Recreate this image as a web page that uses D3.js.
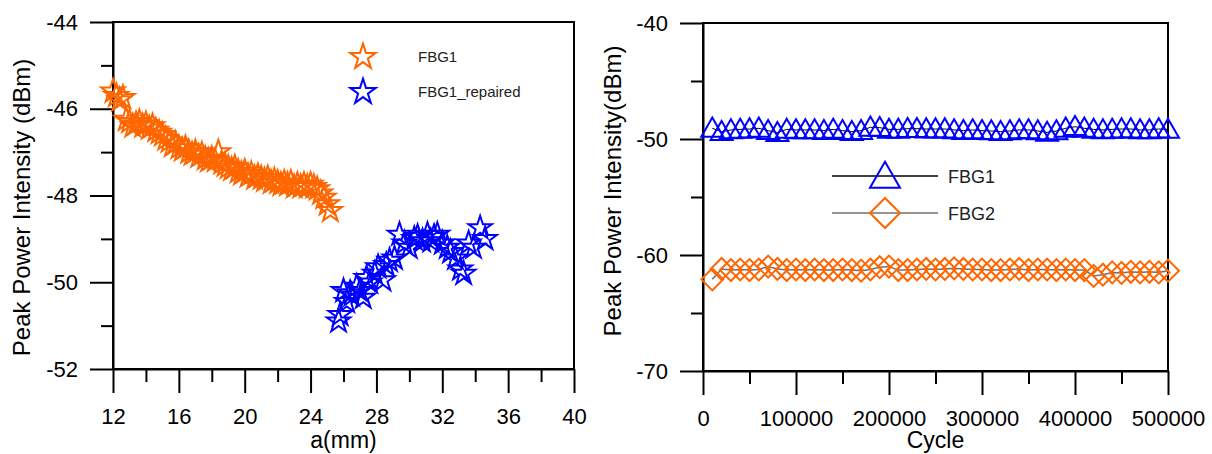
<!DOCTYPE html>
<html>
<head>
<meta charset="utf-8">
<script src="https://cdn.jsdelivr.net/npm/d3@7"></script>
<style>
  body { margin: 0; background: #fff; }
  svg { display: block; font-family: "Liberation Sans", Arial, sans-serif; }
  .axis path, .axis line { stroke: #000; stroke-width: 2; }
  .axis text { fill: #000; }
</style>
</head>
<body>
<script>
// ---- left chart data: a(mm) vs peak power (dBm)
var fbg1A = [12.0, 12.2, 12.4, 12.6, 12.8, 13.0, 13.2, 13.4, 13.6, 13.8, 14.0, 14.2, 14.4, 14.6, 14.8,
  15.0, 15.2, 15.4, 15.6, 15.8, 16.0, 16.2, 16.4, 16.6, 16.8, 17.0, 17.2, 17.4, 17.6, 17.8,
  18.0, 18.2, 18.4, 18.6, 18.8, 19.0, 19.2, 19.4, 19.6, 19.8, 20.0, 20.2, 20.4, 20.6, 20.8,
  21.0, 21.2, 21.4, 21.6, 21.8, 22.0, 22.2, 22.4, 22.6, 22.8, 23.0, 23.2, 23.4, 23.6, 23.8,
  24.0, 24.2, 24.4, 24.6, 24.8, 25.0, 25.2];
var fbg1Power = [-45.6, -45.7, -45.8, -45.75, -46.25, -46.3, -46.4, -46.35, -46.3, -46.4, -46.35, -46.45, -46.4, -46.5, -46.55,
  -46.6, -46.7, -46.75, -46.85, -46.8, -46.9, -46.95, -46.9, -47.0, -47.05, -47.0, -47.1, -47.05, -47.15, -47.2,
  -47.15, -47.2, -47.0, -47.25, -47.3, -47.35, -47.4, -47.35, -47.45, -47.5, -47.45, -47.55, -47.5, -47.6, -47.55,
  -47.6, -47.65, -47.6, -47.7, -47.65, -47.7, -47.75, -47.7, -47.75, -47.7, -47.8, -47.75, -47.8, -47.75, -47.8,
  -47.75, -47.8, -47.85, -47.95, -48.05, -48.2, -48.35];

var repairedA = [25.7, 25.8, 26.0, 26.2, 26.4, 26.5, 26.8, 27.0, 27.2, 27.4, 27.6, 27.9, 28.1, 28.4, 28.6,
  28.8, 29.1, 29.4, 29.7, 30.0, 30.3, 30.5, 30.8, 31.1, 31.3, 31.5, 31.7, 32.0, 32.3, 32.5,
  32.8, 33.1, 33.3, 33.6, 33.9, 34.3, 34.6];
var repairedPower = [-50.9, -50.75, -50.2, -50.45, -50.25, -50.3, -50.1, -50.2, -50.35, -49.9, -50.0, -49.8, -49.65, -49.95, -49.6,
  -49.5, -49.45, -48.9, -49.1, -49.2, -49.0, -48.95, -49.05, -48.9, -49.05, -48.95, -48.9, -49.1, -49.2, -49.3,
  -49.45, -49.7, -49.8, -49.1, -49.2, -48.75, -49.0];

var leftXTicks = [12, 16, 20, 24, 28, 32, 36, 40];
var leftYTicks = [-52, -50, -48, -46, -44];

// ---- right chart data: cycle vs peak power (dBm)
var cycles = [10000, 20000, 30000, 40000, 50000, 60000, 70000, 80000, 90000, 100000,
  110000, 120000, 130000, 140000, 150000, 160000, 170000, 180000, 190000, 200000,
  210000, 220000, 230000, 240000, 250000, 260000, 270000, 280000, 290000, 300000,
  310000, 320000, 330000, 340000, 350000, 360000, 370000, 380000, 390000, 400000,
  410000, 420000, 430000, 440000, 450000, 460000, 470000, 480000, 490000, 500000];
var cycFbg1 = [-49.08, -49.37, -49.22, -49.17, -49.14, -49.08, -49.28, -49.45, -49.17, -49.22,
  -49.22, -49.22, -49.28, -49.17, -49.28, -49.37, -49.28, -48.99, -49.02, -49.17,
  -49.17, -49.11, -49.11, -49.14, -49.14, -49.14, -49.22, -49.28, -49.22, -49.28,
  -49.31, -49.37, -49.31, -49.22, -49.22, -49.31, -49.43, -49.31, -49.08, -48.94,
  -49.08, -49.17, -49.22, -49.17, -49.14, -49.14, -49.22, -49.22, -49.14, -49.17];
var cycFbg2 = [-62.1, -61.2, -61.3, -61.25, -61.3, -61.25, -61.0, -61.2, -61.3, -61.25,
  -61.3, -61.25, -61.3, -61.3, -61.25, -61.3, -61.35, -61.25, -61.05, -61.0,
  -61.3, -61.3, -61.25, -61.2, -61.25, -61.2, -61.15, -61.2, -61.25, -61.25,
  -61.3, -61.3, -61.25, -61.2, -61.3, -61.25, -61.25, -61.3, -61.25, -61.3,
  -61.3, -61.8, -61.7, -61.5, -61.55, -61.45, -61.5, -61.45, -61.5, -61.35];

var rightXTicks = [0, 100000, 200000, 300000, 400000, 500000];
var rightYTicks = [-70, -60, -50, -40];

var orange = "#ff6600", blue = "#0000ff";

// plain hyphen for negatives, like the original plot
var fmtNum = function (d) { return String(d); };

var svg = d3.select("body").append("svg")
    .attr("width", 1212)
    .attr("height", 454);

// draws box frame, axes with major+minor ticks
function drawFrame(g, x, y, w, h, xt, xMinor, yt, yMinor) {
    g.append("rect")
        .attr("width", w).attr("height", h)
        .attr("fill", "none").attr("stroke", "#000").attr("stroke-width", 2);

    g.append("g").attr("class", "axis")
        .attr("transform", "translate(0," + h + ")")
        .call(d3.axisBottom(x).tickValues(xMinor).tickSize(13).tickFormat(""))
        .select(".domain").remove();
    var gx = g.append("g").attr("class", "axis")
        .attr("transform", "translate(0," + h + ")")
        .call(d3.axisBottom(x).tickValues(xt).tickSize(24).tickSizeOuter(0).tickFormat(fmtNum));
    gx.selectAll("text")
        .attr("y", 55).attr("dy", 0)
        .style("font-size", "22px");

    g.append("g").attr("class", "axis")
        .call(d3.axisLeft(y).tickValues(yMinor).tickSize(12).tickFormat(""))
        .select(".domain").remove();
    var gy = g.append("g").attr("class", "axis")
        .call(d3.axisLeft(y).tickValues(yt).tickSize(23).tickSizeOuter(0).tickPadding(12).tickFormat(fmtNum));
    gy.selectAll("text").style("font-size", "22px");
}

// ---------- left chart ----------
var L = { left: 113, top: 22, w: 461, h: 347 };
var xL = d3.scaleLinear().domain([12, 40]).range([0, L.w]);
var yL = d3.scaleLinear().domain([-52, -44]).range([L.h, 0]);
var gL = svg.append("g").attr("transform", "translate(" + L.left + "," + L.top + ")");

drawFrame(gL, xL, yL, L.w, L.h, leftXTicks, [14, 18, 22, 26, 30, 34, 38],
    leftYTicks, [-51, -49, -47, -45]);

var star = d3.symbol().type(d3.symbolStar).size(170);
var starBig = d3.symbol().type(d3.symbolStar).size(200);

gL.append("g").selectAll("path")
    .data(fbg1A)
    .enter().append("path")
    .attr("d", star)
    .attr("transform", function (d, i) { return "translate(" + xL(d) + "," + yL(fbg1Power[i]) + ")"; })
    .attr("fill", "none").attr("stroke", orange).attr("stroke-width", 2);

gL.append("g").selectAll("path")
    .data(repairedA)
    .enter().append("path")
    .attr("d", star)
    .attr("transform", function (d, i) { return "translate(" + xL(d) + "," + yL(repairedPower[i]) + ")"; })
    .attr("fill", "none").attr("stroke", blue).attr("stroke-width", 2);

gL.append("text")
    .attr("x", L.w / 2).attr("y", 426)
    .attr("text-anchor", "middle")
    .style("font-size", "23px")
    .text("a(mm)");
gL.append("text")
    .attr("transform", "rotate(-90)")
    .attr("x", -L.h / 2 - 12).attr("y", -83)
    .attr("text-anchor", "middle")
    .style("font-size", "24px")
    .text("Peak Power Intensity (dBm)");

// left legend
var legL = [{ name: "FBG1", color: orange, y: 56 }, { name: "FBG1_repaired", color: blue, y: 91 }];
legL.forEach(function (d) {
    svg.append("path")
        .attr("d", starBig)
        .attr("transform", "translate(363," + (d.y + 1) + ")")
        .attr("fill", "none").attr("stroke", d.color).attr("stroke-width", 2);
    svg.append("text")
        .attr("x", 418).attr("y", d.y + 6)
        .style("font-size", "15px").attr("fill", "#222")
        .text(d.name);
});

// ---------- right chart ----------
var R = { left: 703, top: 23, w: 465, h: 348 };
var xR = d3.scaleLinear().domain([0, 500000]).range([0, R.w]);
var yR = d3.scaleLinear().domain([-70, -40]).range([R.h, 0]);
var gR = svg.append("g").attr("transform", "translate(" + R.left + "," + R.top + ")");

drawFrame(gR, xR, yR, R.w, R.h, rightXTicks, [50000, 150000, 250000, 350000, 450000],
    rightYTicks, [-65, -55, -45]);

var line1 = d3.line()
    .x(function (d) { return xR(d); })
    .y(function (d, i) { return yR(cycFbg1[i]); });
var line2 = d3.line()
    .x(function (d) { return xR(d); })
    .y(function (d, i) { return yR(cycFbg2[i]); });

gR.append("path").attr("d", line1(cycles))
    .attr("fill", "none").attr("stroke", "#000").attr("stroke-width", 1);
gR.append("path").attr("d", line2(cycles))
    .attr("fill", "none").attr("stroke", "#707070").attr("stroke-width", 1.5);

var tri = d3.symbol().type(d3.symbolTriangle).size(210);
var dia = d3.symbol().type(d3.symbolSquare).size(240);

gR.append("g").selectAll("path")
    .data(cycles)
    .enter().append("path")
    .attr("d", tri)
    .attr("transform", function (d, i) { return "translate(" + xR(d) + "," + (yR(cycFbg1[i]) + 2) + ")"; })
    .attr("fill", "none").attr("stroke", blue).attr("stroke-width", 2);

gR.append("g").selectAll("path")
    .data(cycles)
    .enter().append("path")
    .attr("d", dia)
    .attr("transform", function (d, i) { return "translate(" + xR(d) + "," + yR(cycFbg2[i]) + ") rotate(45)"; })
    .attr("fill", "none").attr("stroke", orange).attr("stroke-width", 2);

gR.append("text")
    .attr("x", R.w / 2).attr("y", 425)
    .attr("text-anchor", "middle")
    .style("font-size", "23px")
    .text("Cycle");
gR.append("text")
    .attr("transform", "rotate(-90)")
    .attr("x", -R.h / 2 + 6).attr("y", -82)
    .attr("text-anchor", "middle")
    .style("font-size", "24px")
    .text("Peak Power Intensity(dBm)");

// right legend
var legR = [
    { name: "FBG1", color: blue, line: "#000", sym: d3.symbol().type(d3.symbolTriangle).size(390), rot: "", dy: 3, y: 176 },
    { name: "FBG2", color: orange, line: "#707070", sym: d3.symbol().type(d3.symbolSquare).size(450), rot: " rotate(45)", dy: 0, y: 213 }
];
legR.forEach(function (d) {
    svg.append("line")
        .attr("x1", 832).attr("x2", 938).attr("y1", d.y).attr("y2", d.y)
        .attr("stroke", d.line).attr("stroke-width", 1.5);
    svg.append("path")
        .attr("d", d.sym)
        .attr("transform", "translate(885," + (d.y + d.dy) + ")" + d.rot)
        .attr("fill", "none").attr("stroke", d.color).attr("stroke-width", 2);
    svg.append("text")
        .attr("x", 948).attr("y", d.y + 7)
        .style("font-size", "18px").attr("fill", "#222")
        .text(d.name);
});
</script>
</body>
</html>
